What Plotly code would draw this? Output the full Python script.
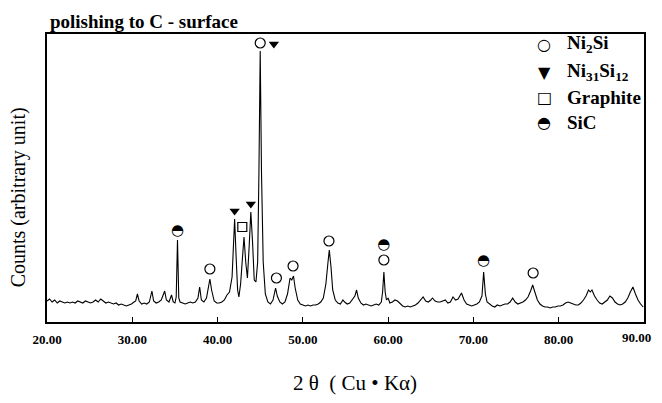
import plotly.graph_objects as go

# ---- data ----
two_theta = [
    20.0, 20.3, 20.6, 20.9, 21.2, 21.5, 21.8, 22.1, 22.4, 22.7, 23.0, 23.3, 23.6, 23.9, 24.2, 24.5,
    24.8, 25.1, 25.4, 25.7, 26.0, 26.3, 26.6, 26.9, 27.2, 27.5, 27.8, 28.1, 28.4, 28.7, 29.0, 29.3,
    29.6, 29.9, 30.2, 30.4, 30.6, 30.8, 31.1, 31.4, 31.7, 32.0, 32.3, 32.5, 32.8, 33.1, 33.4, 33.8,
    34.0, 34.3, 34.6, 34.8, 35.0, 35.15, 35.3, 35.45, 35.6, 35.9, 36.2, 36.5, 36.8, 37.1, 37.4, 37.7,
    37.9, 38.1, 38.4, 38.7, 38.9, 39.1, 39.3, 39.6, 39.9, 40.2, 40.5, 40.8, 41.1, 41.4, 41.7, 41.9,
    42.0, 42.15, 42.35, 42.5, 42.7, 42.9, 43.1, 43.3, 43.5, 43.7, 43.9, 44.1, 44.3, 44.5, 44.7, 44.85,
    45.0, 45.15, 45.35, 45.6, 45.9, 46.2, 46.5, 46.8, 47.0, 47.3, 47.6, 47.9, 48.2, 48.5, 48.7, 48.9,
    49.1, 49.4, 49.7, 50.0, 50.3, 50.6, 50.9, 51.2, 51.5, 51.8, 52.1, 52.4, 52.7, 52.95, 53.1, 53.3,
    53.5, 53.8, 54.1, 54.4, 54.7, 54.9, 55.2, 55.5, 55.8, 56.1, 56.3, 56.5, 56.8, 57.1, 57.4, 57.7,
    58.0, 58.3, 58.6, 58.9, 59.2, 59.35, 59.5, 59.65, 59.8, 60.0, 60.2, 60.5, 60.8, 61.1, 61.4, 61.7,
    62.0, 62.3, 62.6, 62.9, 63.2, 63.5, 63.8, 64.1, 64.4, 64.7, 65.0, 65.2, 65.5, 65.8, 66.1, 66.4,
    66.7, 67.0, 67.3, 67.6, 67.9, 68.2, 68.6, 68.9, 69.2, 69.5, 69.8, 70.1, 70.4, 70.7, 71.0, 71.2,
    71.4, 71.6, 71.9, 72.2, 72.5, 72.8, 73.1, 73.4, 73.7, 74.0, 74.3, 74.6, 74.9, 75.2, 75.5, 75.8,
    76.1, 76.4, 76.7, 76.95, 77.2, 77.5, 77.8, 78.1, 78.4, 78.7, 79.0, 79.3, 79.6, 79.9, 80.2, 80.5,
    80.8, 81.1, 81.4, 81.7, 82.0, 82.3, 82.6, 82.9, 83.2, 83.5, 83.7, 83.9, 84.2, 84.5, 84.8, 85.1,
    85.4, 85.7, 86.0, 86.3, 86.6, 86.9, 87.2, 87.5, 87.8, 88.1, 88.4, 88.7, 89.0, 89.3, 89.6, 89.9,
]
counts = [
    21, 23, 20, 22, 19, 21, 20, 19, 20, 19, 20, 19, 21, 20, 19, 21,
    20, 19, 20, 22, 20, 23, 21, 19, 20, 19, 18, 19, 17, 18, 17, 16,
    17, 18, 20, 21, 28, 21, 18, 19, 18, 20, 31, 21, 19, 20, 22, 31,
    22, 20, 27, 20, 19, 25, 82, 24, 20, 19, 18, 19, 20, 19, 20, 24,
    35, 22, 20, 24, 36, 43, 32, 21, 19, 19, 20, 22, 27, 30, 45, 80,
    103, 70, 32, 25, 38, 62, 85, 60, 44, 75, 110, 80, 42, 40, 60, 150,
    271, 150, 60, 28, 20, 18, 22, 34, 26, 20, 18, 20, 28, 44, 42, 46,
    34, 22, 18, 17, 16, 17, 16, 17, 17, 18, 20, 24, 38, 60, 72, 55,
    32, 22, 19, 18, 22, 20, 18, 19, 22, 26, 32, 24, 19, 17, 18, 17,
    16, 17, 18, 17, 20, 30, 50, 30, 22, 24, 19, 20, 22, 21, 18, 16,
    15, 16, 15, 16, 17, 19, 22, 25, 21, 20, 22, 24, 21, 20, 20, 21,
    22, 19, 20, 25, 22, 23, 29, 22, 18, 17, 16, 17, 18, 20, 26, 50,
    28, 20, 18, 16, 15, 17, 16, 17, 18, 18, 20, 24, 20, 18, 19, 20,
    22, 25, 31, 37, 30, 22, 18, 16, 15, 15, 14, 15, 15, 16, 16, 17,
    19, 20, 19, 18, 17, 17, 19, 22, 26, 32, 30, 32, 26, 22, 19, 18,
    20, 22, 26, 24, 20, 18, 17, 18, 20, 24, 30, 35, 28, 22, 18, 15,
]

# phase labels above the peaks
ni2si_pos = [39.1, 45.0, 46.9, 48.85, 53.06, 59.5, 77.0]
ni2si_lab = [53, 279, 44, 56, 81, 62, 49]
ni31si12_pos = [42.0, 43.9, 46.6]
ni31si12_lab = [111, 118, 278]
graphite_pos = [42.9]
graphite_lab = [95]
sic_pos = [35.3, 59.5, 71.2]
sic_lab = [91, 77, 61]

x_ticks = [20, 30, 40, 50, 60, 70, 80, 90]
x_tick_text = ["20.00", "30.00", "40.00", "50.00", "60.00", "70.00", "80.00", "90.00"]

legend_names = ["Ni<sub>2</sub>Si", "Ni<sub>31</sub>Si<sub>12</sub>", "Graphite", "SiC"]
legend_glyphs = ["○", "▼", "□", "◓"]

SERIF = "Liberation Serif, Times New Roman, serif"
TICKFONT = dict(family=SERIF, size=13, color="black", weight="bold")

fig = go.Figure()
fig.add_trace(go.Scatter(x=two_theta, y=counts, mode="lines",
                         line=dict(color="black", width=1.1), showlegend=False, hoverinfo="skip"))
fig.add_trace(go.Scatter(x=ni2si_pos, y=ni2si_lab, mode="markers", showlegend=False,
                         marker=dict(symbol="circle-open", size=10, color="black", line=dict(width=1.2))))
fig.add_trace(go.Scatter(x=ni31si12_pos, y=ni31si12_lab, mode="markers", showlegend=False,
                         marker=dict(symbol="triangle-down", size=9, color="black")))
fig.add_trace(go.Scatter(x=graphite_pos, y=graphite_lab, mode="markers", showlegend=False,
                         marker=dict(symbol="square-open", size=9, color="black", line=dict(width=1.2))))
fig.add_trace(go.Scatter(x=sic_pos, y=sic_lab, mode="text", text=["◓"] * len(sic_pos),
                         textposition="middle center", showlegend=False,
                         textfont=dict(family="DejaVu Sans", size=15, color="black")))

# legend drawn as annotations
legend_y = [0.965, 0.868, 0.778, 0.691]
for g, name, yy in zip(legend_glyphs, legend_names, legend_y):
    fig.add_annotation(xref="paper", yref="paper", x=0.833, y=yy, text=g, showarrow=False,
                       xanchor="center", yanchor="middle",
                       font=dict(family="DejaVu Sans", size=16, color="black"))
    fig.add_annotation(xref="paper", yref="paper", x=0.868, y=yy, text="<b>" + name + "</b>",
                       showarrow=False, xanchor="left", yanchor="middle",
                       font=dict(family=SERIF, size=19, color="black"))

# last tick label sits at the right edge: drawn as an annotation so it is not clipped
fig.add_annotation(xref="x", yref="paper", x=x_ticks[-1], y=0, yshift=-15, text=x_tick_text[-1],
                   showarrow=False, xanchor="right", yanchor="middle", xshift=9, font=TICKFONT)

# axis titles
fig.add_annotation(xref="paper", yref="paper", x=-0.048, y=0.434, text="Counts (arbitrary unit)",
                   textangle=-90, showarrow=False, xanchor="center", yanchor="middle",
                   font=dict(family=SERIF, size=20, color="black"))
fig.add_annotation(xref="paper", yref="paper", x=0.516, y=-0.212, text="2 θ  ( Cu • Kα)",
                   showarrow=False, xanchor="center", yanchor="middle",
                   font=dict(family=SERIF, size=21, color="black"))

# the page adds an 8px body margin on every side; the figure is sized so the whole page is 662x403
fig.update_layout(
    width=646, height=387,
    margin=dict(l=39, r=8, t=26, b=73),
    paper_bgcolor="white", plot_bgcolor="white",
    title=dict(text="<b>polishing to C - surface</b>", x=0.065, xref="container", xanchor="left",
               y=0.966, yanchor="middle", font=dict(family=SERIF, size=19, color="black")),
    xaxis=dict(range=[20, 90], tickvals=x_ticks, ticktext=x_tick_text[:-1] + [""], ticks="inside",
               ticklen=5, tickcolor="black", showgrid=False, zeroline=False, showline=True,
               linecolor="black", linewidth=1.5, mirror=True, ticklabelstandoff=5,
               tickfont=TICKFONT),
    yaxis=dict(range=[0, 288], showticklabels=False, ticks="", showgrid=False, zeroline=False,
               showline=True, linecolor="black", linewidth=1.5, mirror=True),
)

fig.write_html("out.html")
